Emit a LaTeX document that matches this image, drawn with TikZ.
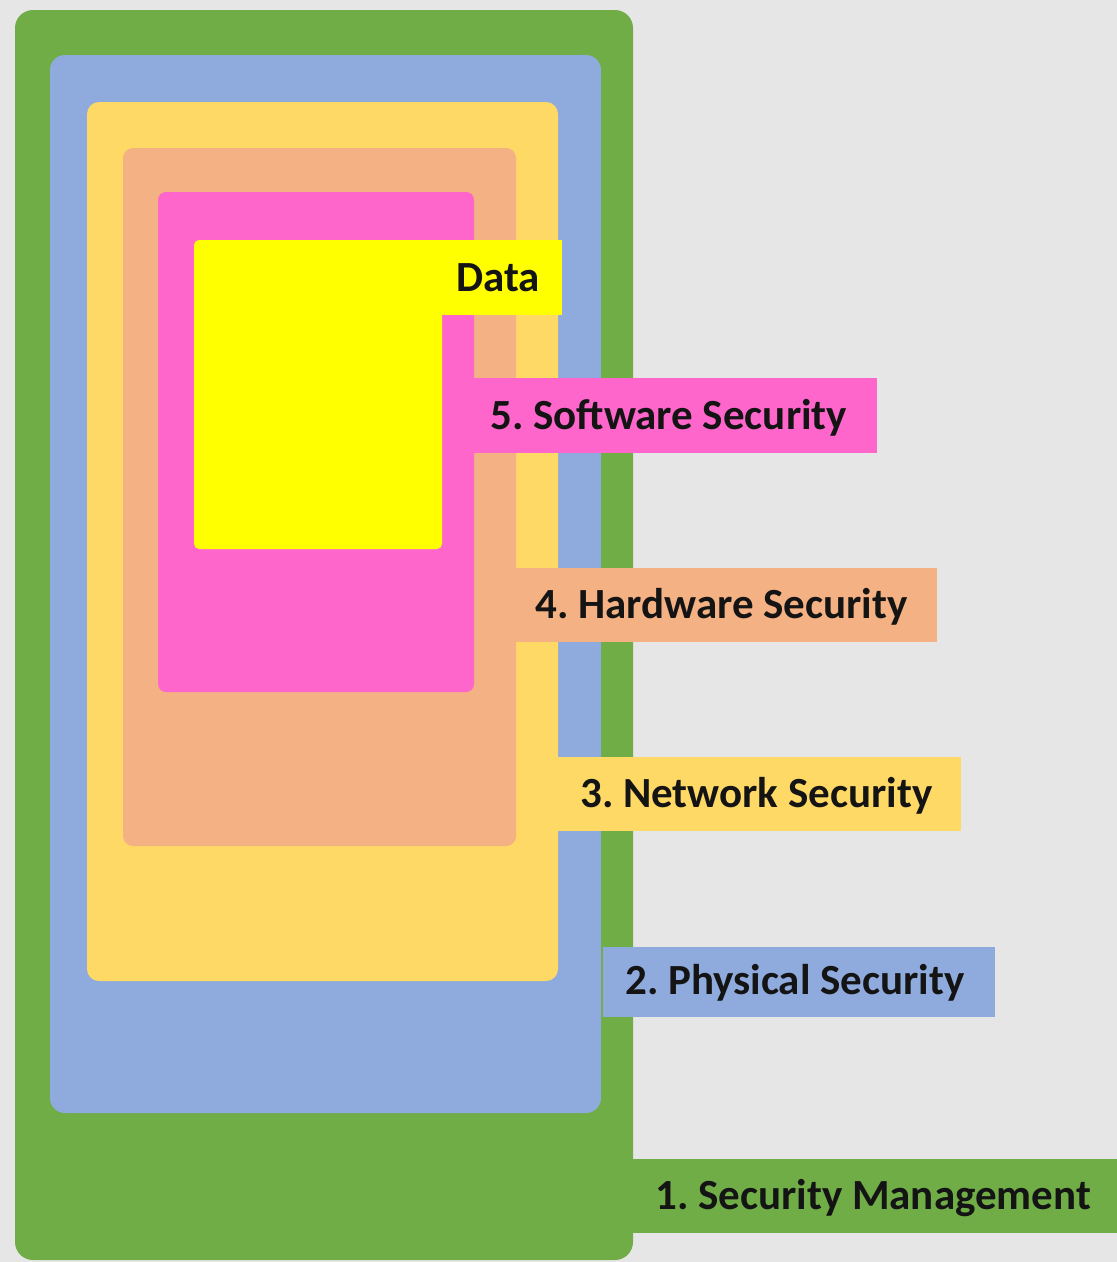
\documentclass[tikz,border=0pt]{standalone}
\usepackage{fontspec}
\setmainfont{Carlito}
\frenchspacing
\definecolor{bgc}{HTML}{E7E6E6}
\definecolor{c1}{HTML}{70AD47}
\definecolor{c2}{HTML}{8FAADC}
\definecolor{c3}{HTML}{FFD966}
\definecolor{c4}{HTML}{F4B183}
\definecolor{c5}{HTML}{FF66CC}
\definecolor{c6}{HTML}{FFFF00}
\definecolor{txt}{HTML}{141414}
\begin{document}
\begin{tikzpicture}[x=1pt,y=-1pt,
  layer/.style={rounded corners=#1},
  lab/.style={anchor=west,inner sep=0pt,text=txt,font=\fontsize{43}{46}\selectfont\bfseries}]
\useasboundingbox (0,0) rectangle (1117,1262);
\fill[bgc] (0,0) rectangle (1117,1262);
% 1 green
\fill[c1,layer=18] (15,10) rectangle (633,1260);
\fill[c1] (620,1159) rectangle (1117,1233);
% 2 blue
\fill[c2,layer=15] (50,55) rectangle (601,1113);
\fill[c2] (603,947) rectangle (995,1017);
% 3 gold
\fill[c3,layer=12] (87,102) rectangle (558,981);
\fill[c3] (545,757) rectangle (961,831);
% 4 salmon
\fill[c4,layer=10] (123,148) rectangle (516,846);
\fill[c4] (505,568) rectangle (937,642);
% 5 pink
\fill[c5,layer=8] (158,192) rectangle (474,692);
\fill[c5] (460,378) rectangle (877,453);
% 6 data
\fill[c6,layer=5] (194,240) rectangle (442,549);
\fill[c6] (200,240) rectangle (562,315);
% labels
\node[lab] (tdata) at (456,278) {Data};
\node[lab] (t5) at (490,418) {5. Software Security};
\node[lab] (t4) at (535,607) {4. Hardware Security};
\node[lab] (t3) at (580,796) {3. Network Security};
\node[lab] (t2) at (625,983) {2. Physical Security};
\node[lab] (t1) at (655,1198) {1. Security Management};
\end{tikzpicture}
\end{document}
